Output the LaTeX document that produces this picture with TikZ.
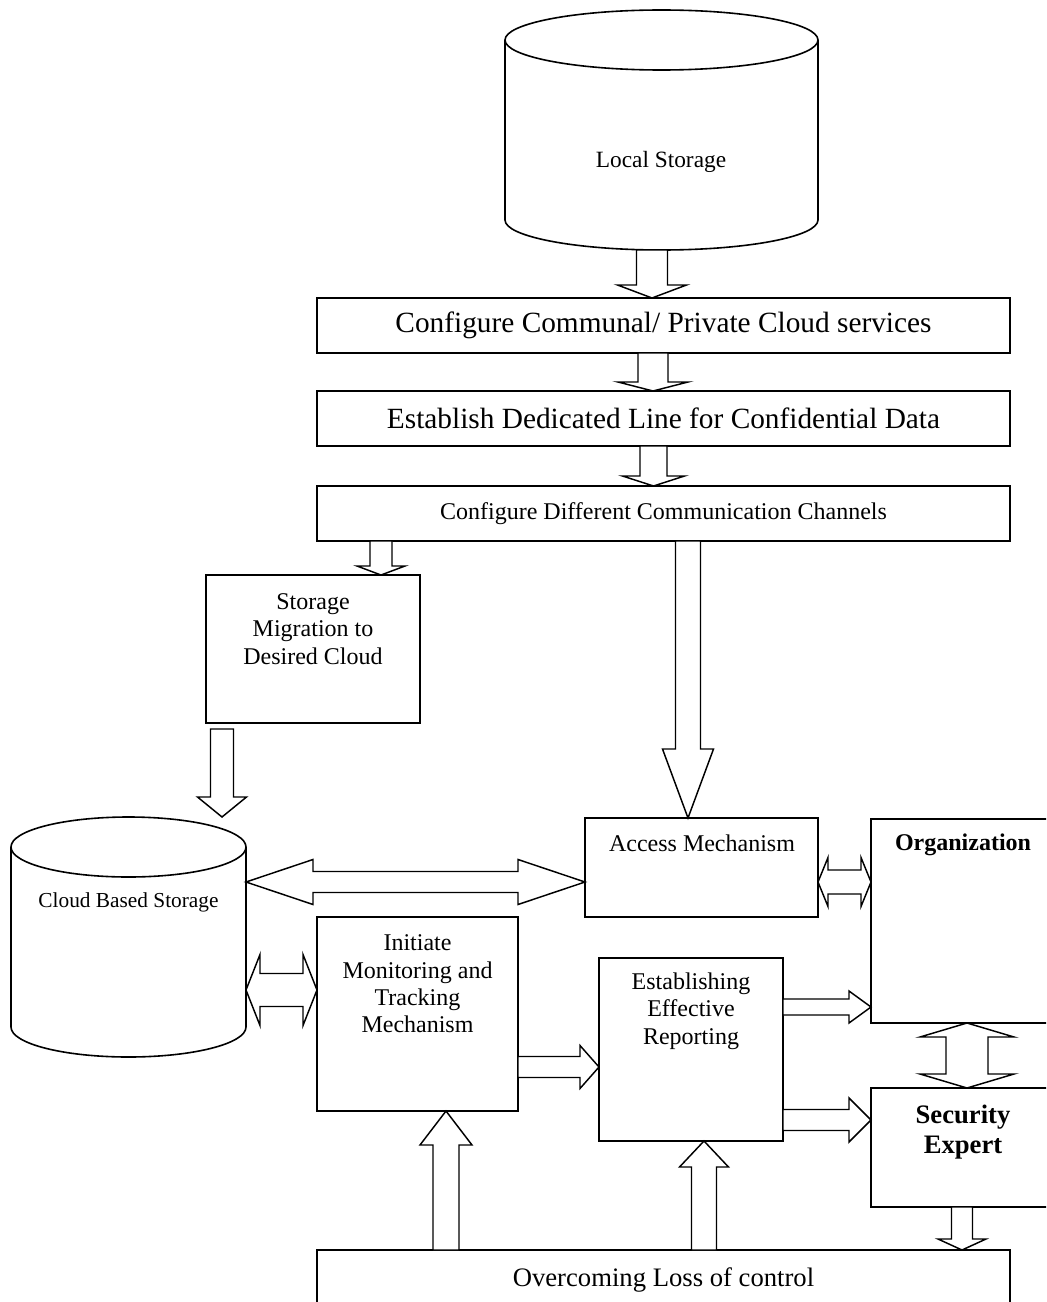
\documentclass[tikz,border=0pt]{standalone}
\usepackage{fontspec}
\setmainfont{Liberation Serif}
\usetikzlibrary{calc}

\newcommand{\fatarrow}[5]{%
  \draw[blockarrow] let \p1=(#1),\p2=(#2),\n1={atan2(\y2-\y1,\x2-\x1)},\n2={veclen(\x2-\x1,\y2-\y1)} in
  [shift={(\p1)},rotate=\n1]
  (0pt,#3*0.75pt) -- (\n2-#5*0.75pt,#3*0.75pt) -- (\n2-#5*0.75pt,#4*0.75pt) -- (\n2,0pt)
  -- (\n2-#5*0.75pt,-#4*0.75pt) -- (\n2-#5*0.75pt,-#3*0.75pt) -- (0pt,-#3*0.75pt) -- cycle;}
\newcommand{\fatdblarrow}[5]{%
  \draw[blockarrow] let \p1=(#1),\p2=(#2),\n1={atan2(\y2-\y1,\x2-\x1)},\n2={veclen(\x2-\x1,\y2-\y1)} in
  [shift={(\p1)},rotate=\n1]
  (0pt,0pt) -- (#5*0.75pt,#4*0.75pt) -- (#5*0.75pt,#3*0.75pt) -- (\n2-#5*0.75pt,#3*0.75pt)
  -- (\n2-#5*0.75pt,#4*0.75pt) -- (\n2,0pt) -- (\n2-#5*0.75pt,-#4*0.75pt) -- (\n2-#5*0.75pt,-#3*0.75pt)
  -- (#5*0.75pt,-#3*0.75pt) -- (#5*0.75pt,-#4*0.75pt) -- cycle;}

\begin{document}
\begin{tikzpicture}[x=0.75pt,y=0.75pt,
box/.style={draw=black,line width=1.2pt,inner sep=0pt,outer sep=0pt},
hold/.style={inner sep=0pt,outer sep=0pt},
cyl/.style={draw=black,line width=1.2pt},
txt/.style={inner sep=0pt,align=center,font=\fontsize{18}{20.5}\selectfont},
big/.style={font=\fontsize{22}{26}\selectfont},
blockarrow/.style={draw=black,line width=1.1pt,fill=white,line join=miter}
]
\useasboundingbox (0,0) rectangle (1046,-1302);
\clip (0,0) rectangle (1046,-1302);

\node[hold,minimum width=313*0.75pt,minimum height=240*0.75pt] (lstore) at (661.5,-130) {};
\draw[cyl] (505,-40) -- (505,-220) arc[start angle=180,end angle=360,x radius=156.5,y radius=30]
  -- (818,-40) arc[start angle=0,end angle=180,x radius=156.5,y radius=30]
  arc[start angle=180,end angle=360,x radius=156.5,y radius=30];
\node[txt,font=\fontsize{17.5}{20}\selectfont] (lstoretxt) at (661,-162) {Local Storage};

\node[box,big,minimum width=693*0.75pt,minimum height=55*0.75pt] (b1) at (663.5,-325.5) {Configure Communal/ Private Cloud services};
\node[box,big,minimum width=693*0.75pt,minimum height=55*0.75pt] (b2) at (663.5,-418.5) {Establish Dedicated Line for Confidential Data};
\node[box,font=\fontsize{18}{20}\selectfont,minimum width=693*0.75pt,minimum height=55*0.75pt] (b3) at (663.5,-513.5) {Configure Different Communication Channels};

\node[box,minimum width=214*0.75pt,minimum height=148*0.75pt] (sm) at (313,-649) {};
\node[txt] (smtxt) at (313,-629) {Storage\\Migration to\\Desired Cloud};

\node[hold,minimum width=235*0.75pt,minimum height=240*0.75pt] (cloud) at (128.5,-937) {};
\draw[cyl] (11,-847) -- (11,-1027) arc[start angle=180,end angle=360,x radius=117.5,y radius=30]
  -- (246,-847) arc[start angle=0,end angle=180,x radius=117.5,y radius=30]
  arc[start angle=180,end angle=360,x radius=117.5,y radius=30];
\node[txt,font=\fontsize{16}{18}\selectfont] (cloudtxt) at (128.5,-902) {Cloud Based Storage};

\node[box,minimum width=233*0.75pt,minimum height=99*0.75pt] (access) at (701.5,-867.5) {};
\node[txt] (accesstxt) at (702,-843) {Access Mechanism};
\node[box,minimum width=184*0.75pt,minimum height=204*0.75pt] (org) at (963,-921) {};
\node[txt,font=\bfseries\fontsize{18}{20}\selectfont] (orgtxt) at (963,-845) {Organization};
\node[box,minimum width=184*0.75pt,minimum height=119*0.75pt] (sec) at (963,-1147.5) {};
\node[txt,font=\bfseries\fontsize{20}{22.5}\selectfont] (sectxt) at (963,-1132) {Security\\Expert};
\node[box,minimum width=201*0.75pt,minimum height=194*0.75pt] (init) at (417.5,-1014) {};
\node[txt] (inittxt) at (417.5,-984) {Initiate\\Monitoring and\\Tracking\\Mechanism};
\node[box,minimum width=184*0.75pt,minimum height=183*0.75pt] (rep) at (691,-1049.5) {};
\node[txt] (reptxt) at (691,-1011) {Establishing\\Effective\\Reporting};
\node[box,font=\fontsize{20}{22}\selectfont,minimum width=693*0.75pt,minimum height=60*0.75pt] (loss) at (663.5,-1280) {Overcoming Loss of control};

\fatarrow{$(lstore.south)+(-9.5,0)$}{$(b1.north)+(-11.5,0)$}{15.5}{34.5}{13}
\fatarrow{$(b1.south)+(-10.5,0)$}{$(b2.north)+(-10.5,0)$}{15}{35}{9}
\fatarrow{$(b2.south)+(-10,0)$}{$(b3.north)+(-10,0)$}{13.5}{31}{10}
\fatarrow{$(b3.south west)+(64,0)$}{$(sm.north)+(68,0)$}{11}{24}{9}
\fatarrow{$(b3.south west)+(371,0)$}{$(access.north)+(-13.5,0)$}{12.5}{25.5}{69}
\fatarrow{$(sm.south)+(-91,-6)$}{$(cloud.north)+(93.5,0)$}{11.5}{24.5}{20}
\fatarrow{$(init.east)+(0,-53)$}{$(rep.west)+(0,-17.5)$}{10.5}{21.5}{19}
\fatarrow{$(rep.east)+(0,42.5)$}{$(org.west)+(0,-86)$}{8}{16}{22}
\fatarrow{$(rep.east)+(0,-70.5)$}{$(sec.west)+(0,27.5)$}{10.5}{22}{22}
\fatarrow{$(sec.south)+(-1,0)$}{$(loss.north)+(298.5,0)$}{10.5}{24}{11}
\fatarrow{$(loss.north)+(-217.5,0)$}{$(init.south)+(28.5,0)$}{13}{26}{34}
\fatarrow{$(loss.north)+(40.5,0)$}{$(rep.south)+(13,0)$}{12.5}{24.5}{26}
\fatdblarrow{$(cloud.east)+(0,55)$}{$(access.west)+(0,-14.5)$}{10.5}{22.5}{67}
\fatdblarrow{$(cloud.east)+(0,-53)$}{$(init.west)+(0,24)$}{16.5}{35.5}{14}
\fatdblarrow{$(access.east)+(0,-14.5)$}{$(org.west)+(0,39)$}{12}{24.5}{10}
\fatdblarrow{$(org.south)+(4,0)$}{$(sec.north)+(4,0)$}{21}{47}{14}
\end{tikzpicture}
\end{document}
